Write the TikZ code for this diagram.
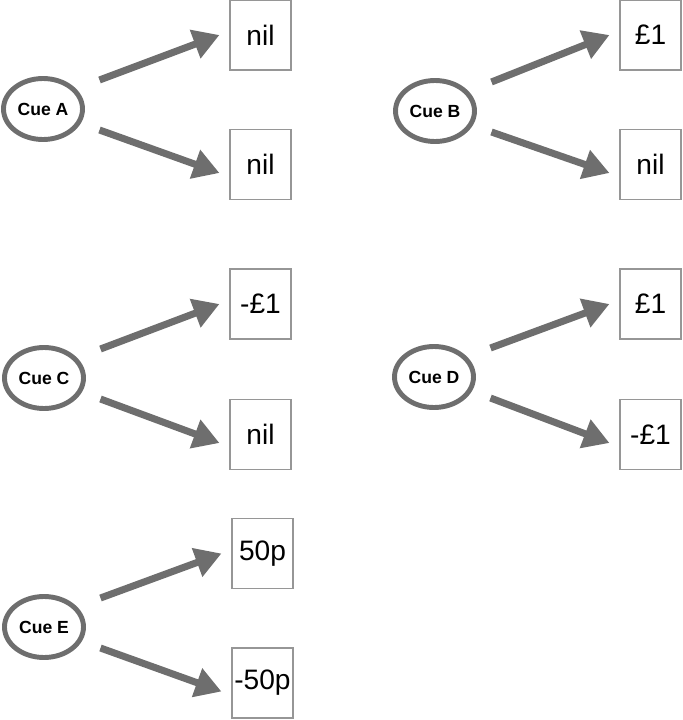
\documentclass[tikz,border=0pt]{standalone}
\usepackage{fontspec}
\setmainfont{Liberation Sans}
\usetikzlibrary{arrows.meta, shapes.geometric}
\definecolor{cuegray}{RGB}{110,110,110}
\definecolor{boxgray}{RGB}{150,150,150}
\tikzset{
    cue/.style = {ellipse, draw = cuegray, line width = 2.8pt, minimum width = 1.58cm,
        minimum height = 1.22cm, inner sep = 0pt, font = \fontsize{10}{12}\selectfont\bfseries},
    outcome/.style = {rectangle, draw = boxgray, line width = 0.6pt, minimum width = 1.22cm,
        minimum height = 1.4cm, inner sep = 0pt, font = \fontsize{16}{19}\selectfont},
    flow/.style = {draw = cuegray, line width = 4pt, -{Triangle[length = 0.52cm, width = 0.58cm]}}
}

\begin{document}
\begin{tikzpicture}
    \useasboundingbox (0, 0) rectangle (13.64, -14.4);
    \node[cue] (cueA) at (0.86, -2.18) {Cue A};
    \node[outcome] (upA) at (5.21, -0.70) {nil};
    \node[outcome] (downA) at (5.21, -3.29) {nil};
    \node[cue] (cueB) at (8.70, -2.22) {Cue B};
    \node[outcome] (upB) at (13.01, -0.70) {£1};
    \node[outcome] (downB) at (13.01, -3.29) {nil};
    \node[cue] (cueC) at (0.88, -7.56) {Cue C};
    \node[outcome] (upC) at (5.21, -6.08) {-£1};
    \node[outcome] (downC) at (5.21, -8.69) {nil};
    \node[cue] (cueD) at (8.68, -7.54) {Cue D};
    \node[outcome] (upD) at (13.01, -6.08) {£1};
    \node[outcome] (downD) at (13.01, -8.69) {-£1};
    \node[cue] (cueE) at (0.88, -12.54) {Cue E};
    \node[outcome] (upE) at (5.25, -11.07) {50p};
    \node[outcome] (downE) at (5.25, -13.66) {-50p};
    \foreach \c in {A, B, C, D, E}
    {
        \draw[flow] ([shift = {(1.13, 0.58)}]cue\c.center) -- ([xshift = -0.2cm]up\c.west);
        \draw[flow] ([shift = {(1.13, -0.42)}]cue\c.center) -- ([shift = {(-0.2, -0.17)}]down\c.west);
    }
\end{tikzpicture}
\end{document}
